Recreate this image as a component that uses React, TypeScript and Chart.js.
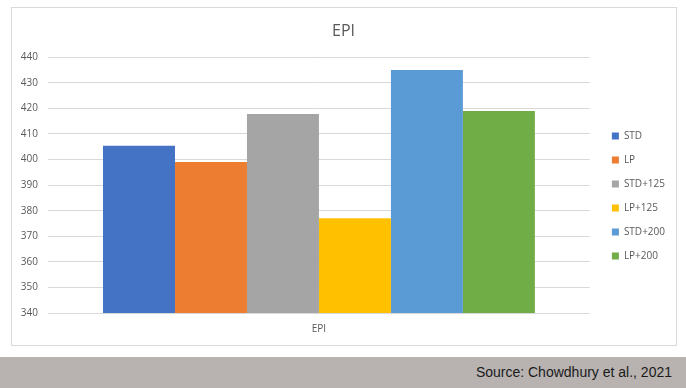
import React, { useEffect, useRef } from "react";
import { Chart, registerables } from "chart.js";

Chart.register(...registerables);

const categories = ["EPI"];
const seriesNames = ["STD", "LP", "STD+125", "LP+125", "STD+200", "LP+200"];
const seriesValues = [405.4, 399, 417.8, 377, 435, 419];
const seriesColors = ["#4472C4", "#ED7D31", "#A5A5A5", "#FFC000", "#5B9BD5", "#70AD47"];
const yMin = 340;
const yMax = 440;
const yStep = 10;
const titleText = "EPI";
const sourceText = "Source: Chowdhury et al., 2021";

export default function App() {
  const canvasRef = useRef<HTMLCanvasElement | null>(null);

  useEffect(() => {
    document.body.style.margin = "0";
    const canvas = canvasRef.current;
    if (!canvas) return;
    const font = "'Open Sans', 'DejaVu Sans', sans-serif";
    const chart = new Chart(canvas, {
      type: "bar",
      data: {
        labels: categories,
        datasets: seriesNames.map((name, i) => ({
          label: name,
          data: [seriesValues[i]],
          backgroundColor: seriesColors[i],
          borderWidth: 0,
          categoryPercentage: 0.797,
          barPercentage: 1,
          yAxisID: "y",
        })),
      },
      options: {
        animation: false,
        responsive: false,
        maintainAspectRatio: false,
        layout: { padding: { left: 0, right: 0, top: 0, bottom: 0 } },
        plugins: {
          title: {
            display: true,
            text: titleText,
            color: "#595959",
            font: { family: font, size: 16, weight: "normal" },
            padding: { top: 14, bottom: 16 },
          },
          legend: {
            position: "right",
            title: {
              display: true,
              text: " ",
              font: { family: font, size: 10 },
              padding: { top: 14, bottom: 14 },
            },
            labels: {
              boxWidth: 7,
              boxHeight: 7,
              padding: 14,
              color: "#595959",
              font: { family: font, size: 10 },
            },
          },
          tooltip: { enabled: false },
        },
        scales: {
          x: {
            grid: { display: false },
            border: { display: false },
            ticks: {
              color: "#595959",
              font: { family: font, size: 10 },
              padding: 2,
            },
            afterFit: (s: any) => {
              s.height = 31;
            },
          },
          y: {
            min: yMin,
            max: yMax,
            ticks: {
              stepSize: yStep,
              color: "#595959",
              font: { family: font, size: 10 },
              padding: 10,
            },
            grid: { color: "#d9d9d9", drawTicks: false },
            border: { display: false },
            afterFit: (s: any) => {
              s.width = 36;
            },
          },
          yGap: {
            position: "right",
            display: true,
            grid: { display: false },
            border: { display: false },
            ticks: { display: false },
            afterFit: (s: any) => {
              s.width = 8;
            },
          },
        },
      },
    });
    return () => chart.destroy();
  }, []);

  return (
    <div style={{ position: "relative", width: 686, height: 388, background: "#fff", overflow: "hidden" }}>
      <div
        style={{
          position: "absolute",
          left: 11,
          top: 7,
          width: 664,
          height: 337,
          border: "1px solid #d9d9d9",
        }}
      />
      <canvas
        ref={canvasRef}
        width={663}
        height={336}
        style={{ position: "absolute", left: 12, top: 8, width: 663, height: 336 }}
      />
      <div
        style={{
          position: "absolute",
          left: 0,
          top: 357,
          width: 686,
          height: 31,
          background: "#b8b3b1",
        }}
      >
        <div
          style={{
            position: "absolute",
            right: 14,
            top: 0,
            height: 31,
            lineHeight: "31px",
            fontFamily: "'Liberation Sans', Arial, sans-serif",
            fontSize: 14,
            color: "#1a1a1a",
          }}
        >
          {sourceText}
        </div>
      </div>
    </div>
  );
}
